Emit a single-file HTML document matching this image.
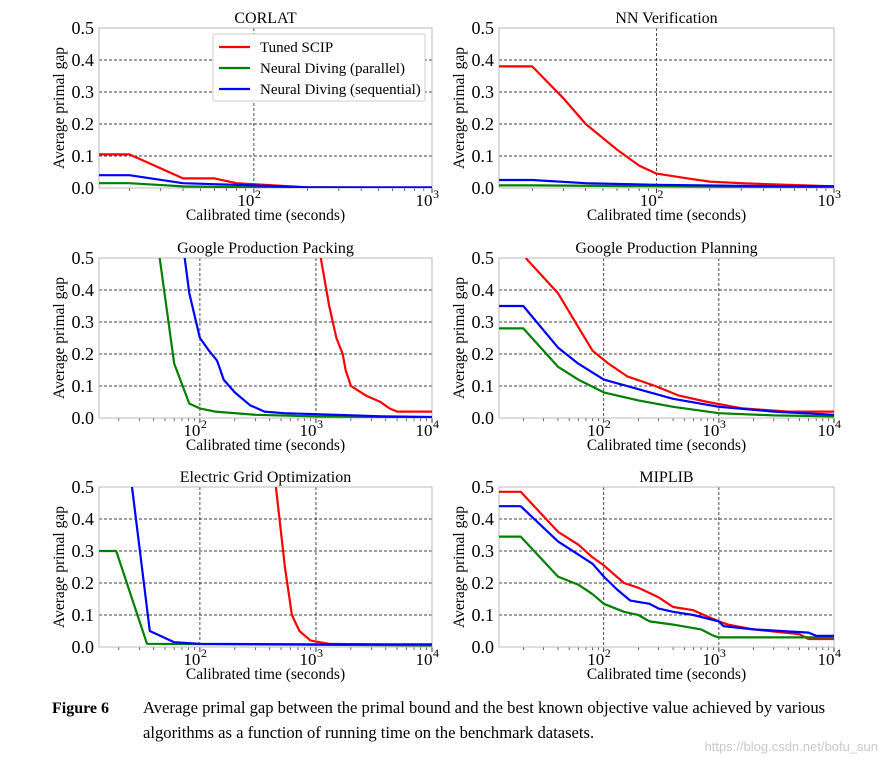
<!DOCTYPE html>
<html><head><meta charset="utf-8"><style>
body{margin:0;background:#fff;width:887px;height:764px;overflow:hidden;font-family:"Liberation Serif",serif}
svg text{font-family:"Liberation Serif",serif;fill:#000}
</style></head><body>
<svg id="fig" width="887" height="764" viewBox="0 0 887 764" xmlns="http://www.w3.org/2000/svg">
<text x="52" y="713" font-weight="bold" font-size="16">Figure 6</text>
<text x="143" y="713" font-size="16.6">Average primal gap between the primal bound and the best known objective value achieved by various</text>
<text x="143" y="738" font-size="16.6">algorithms as a function of running time on the benchmark datasets.</text>
<text x="878" y="751" text-anchor="end" font-size="13" style="font-family:'Liberation Sans',sans-serif;fill:#c8c8c8">https://blog.csdn.net/bofu_sun</text>
</svg>
<script>
const titles=["CORLAT","NN Verification","Google Production Packing","Google Production Planning","Electric Grid Optimization","MIPLIB"];
const xMins=[13.5,13,13.5,12.3,13.5,12.3];
const xMaxs=[1000,1000,10000,10000,10000,10000];
const yTicks=[0,0.1,0.2,0.3,0.4,0.5];
const seriesNames=["Tuned SCIP","Neural Diving (parallel)","Neural Diving (sequential)"];
const seriesColors=["#ff0000","#008000","#0000ff"];
const redData=[
[[13.5,.105],[20,.105],[40,.03],[60,.03],[80,.015],[100,.012],[200,.002],[1000,0]],
[[13,.38],[20,.38],[30,.28],[40,.2],[60,.12],[80,.07],[100,.045],[150,.03],[200,.02],[300,.015],[1000,.005]],
[[1100,.5],[1300,.35],[1500,.25],[1700,.2],[1800,.15],[2000,.1],[2700,.07],[3600,.05],[4300,.03],[5000,.02],[10000,.02]],
[[21,.5],[40,.39],[61,.28],[80,.21],[110,.17],[160,.13],[280,.1],[450,.07],[800,.05],[1600,.03],[4000,.02],[10000,.02]],
[[452,.5],[540,.25],[620,.1],[720,.05],[900,.02],[1300,.01],[10000,.005]],
[[12.3,.485],[19,.485],[40,.36],[60,.32],[80,.28],[100,.255],[150,.2],[200,.185],[300,.155],[400,.125],[600,.115],[800,.095],[1000,.08],[1200,.07],[2000,.055],[5000,.04],[6000,.025],[10000,.025]]];
const greenData=[
[[13.5,.015],[20,.015],[40,.005],[100,.002],[1000,.001]],
[[13,.008],[20,.008],[1000,.002]],
[[45,.5],[60,.17],[81,.045],[100,.03],[135,.02],[300,.01],[1000,.005],[10000,.002]],
[[12.3,.28],[20,.28],[40,.16],[60,.12],[100,.08],[200,.055],[400,.035],[1000,.015],[3000,.008],[10000,.005]],
[[13.5,.3],[19,.3],[35,.01],[10000,.005]],
[[12.3,.345],[19,.345],[40,.22],[60,.195],[80,.165],[100,.135],[150,.11],[200,.1],[250,.08],[400,.07],[700,.055],[900,.035],[1000,.03],[10000,.03]]];
const blueData=[
[[13.5,.04],[20,.04],[40,.015],[60,.012],[100,.008],[200,.002],[1000,.002]],
[[13,.025],[20,.025],[40,.015],[100,.01],[300,.007],[1000,.005]],
[[74,.5],[81,.39],[100,.25],[120,.21],[140,.18],[150,.15],[160,.12],[200,.08],[270,.04],[360,.02],[530,.015],[1500,.01],[3800,.005],[10000,.003]],
[[12.3,.35],[20,.35],[40,.22],[60,.17],[100,.12],[200,.09],[400,.06],[1000,.035],[3000,.02],[10000,.01]],
[[26,.5],[37,.05],[60,.015],[100,.01],[1000,.008],[10000,.008]],
[[12.3,.44],[19,.44],[40,.33],[80,.26],[100,.22],[130,.18],[170,.145],[250,.135],[300,.12],[400,.11],[600,.1],[1000,.08],[1100,.065],[2000,.055],[6000,.045],[7000,.035],[10000,.035]]];
const allData=[redData,greenData,blueData];

const NS="http://www.w3.org/2000/svg";
const svg=document.getElementById('fig');
function mk(tag,attrs,parent){const e=document.createElementNS(NS,tag);for(const k in attrs)e.setAttribute(k,attrs[k]);(parent||svg).appendChild(e);return e;}
const lefts=[99,499],rights=[432,834],tops=[28,258,487];
for(let p=0;p<6;p++){
  const col=p%2,row=Math.floor(p/2);
  const L=lefts[col],R=rights[col],T=tops[row],B=T+160;
  const lmin=Math.log10(xMins[p]),lmax=Math.log10(xMaxs[p]);
  const xs=t=>L+(Math.log10(t)-lmin)/(lmax-lmin)*(R-L);
  const ys=v=>T+(0.5-v)/0.5*(B-T);
  const g=mk('g',{});
  
  
  const defsId='clip'+p;
  const cp=mk('clipPath',{id:defsId},g);mk('rect',{x:L,y:T,width:R-L,height:B-T},cp);
  yTicks.forEach(v=>{const l=mk('line',{x1:L,x2:R,y1:ys(v),y2:ys(v),stroke:'#000','stroke-width':0.7,'stroke-dasharray':'3,2'},g);
    
    const t=mk('text',{x:L-5,y:ys(v)+6,'text-anchor':'end','font-size':18},g);t.textContent=v.toFixed(1);
    });
  for(let d=Math.ceil(lmin);d<=lmax;d++){
    const x=xs(Math.pow(10,d));
    const l=mk('line',{x1:x,x2:x,y1:T,y2:B,stroke:'#000','stroke-width':0.7,'stroke-dasharray':'3,2'},g);
    
    mk('line',{x1:x,x2:x,y1:B,y2:B+5,stroke:'#000','stroke-width':0.8},g);
    const t=mk('text',{x:x-8,y:B+18,'text-anchor':'middle','font-size':17},g);t.textContent='10';
    
    const s=mk('text',{x:x+1,y:B+10,'font-size':12},g);s.textContent=String(d);
    for(let m=2;m<10;m++){const v=Math.pow(10,d)*m;if(Math.log10(v)<=lmax){const mx=xs(v);mk('line',{x1:mx,x2:mx,y1:B,y2:B+3,stroke:'#000','stroke-width':0.6},g);}}
  }
  for(let m=2;m<10;m++){const v=Math.pow(10,Math.ceil(lmin)-1)*m;if(Math.log10(v)>lmin){const mx=xs(v);mk('line',{x1:mx,x2:mx,y1:B,y2:B+3,stroke:'#000','stroke-width':0.6},g);}}
  const fr=mk('rect',{x:L,y:T,width:R-L,height:B-T,fill:'none',stroke:'#bbb','stroke-width':1},g);
  
  allData.forEach((sd,si)=>{
    const pts=sd[p].map(d=>xs(d[0]).toFixed(1)+','+ys(d[1]).toFixed(1)).join(' ');
    const pl=mk('polyline',{points:pts,fill:'none',stroke:seriesColors[si],'stroke-width':2.2,'clip-path':'url(#'+defsId+')','stroke-linejoin':'round'},g);
    
    
  });
  const tt=mk('text',{x:(L+R)/2,y:T-5,'text-anchor':'middle','font-size':16},g);tt.textContent=titles[p];
  
  const xl=mk('text',{x:(L+R)/2,y:B+32,'text-anchor':'middle','font-size':15.5},g);xl.textContent='Calibrated time (seconds)';
  
  const yl=mk('text',{x:0,y:0,'text-anchor':'middle','font-size':15.5,transform:'translate('+(L-35)+','+((T+B)/2)+') rotate(-90)'},g);yl.textContent='Average primal gap';
  
  if(p===0){
    const lg=mk('g',{},g);
    
    mk('rect',{x:213,y:34,width:212,height:67,fill:'#fff',stroke:'#ccc',rx:2},lg);
    seriesNames.forEach((n,i)=>{const y=47+i*21;
      mk('line',{x1:219,x2:250,y1:y,y2:y,stroke:seriesColors[i],'stroke-width':2.2},lg);
      const t=mk('text',{x:260,y:y+5,'font-size':15},lg);t.textContent=n;
      });
  }
}
</script>
</body></html>
